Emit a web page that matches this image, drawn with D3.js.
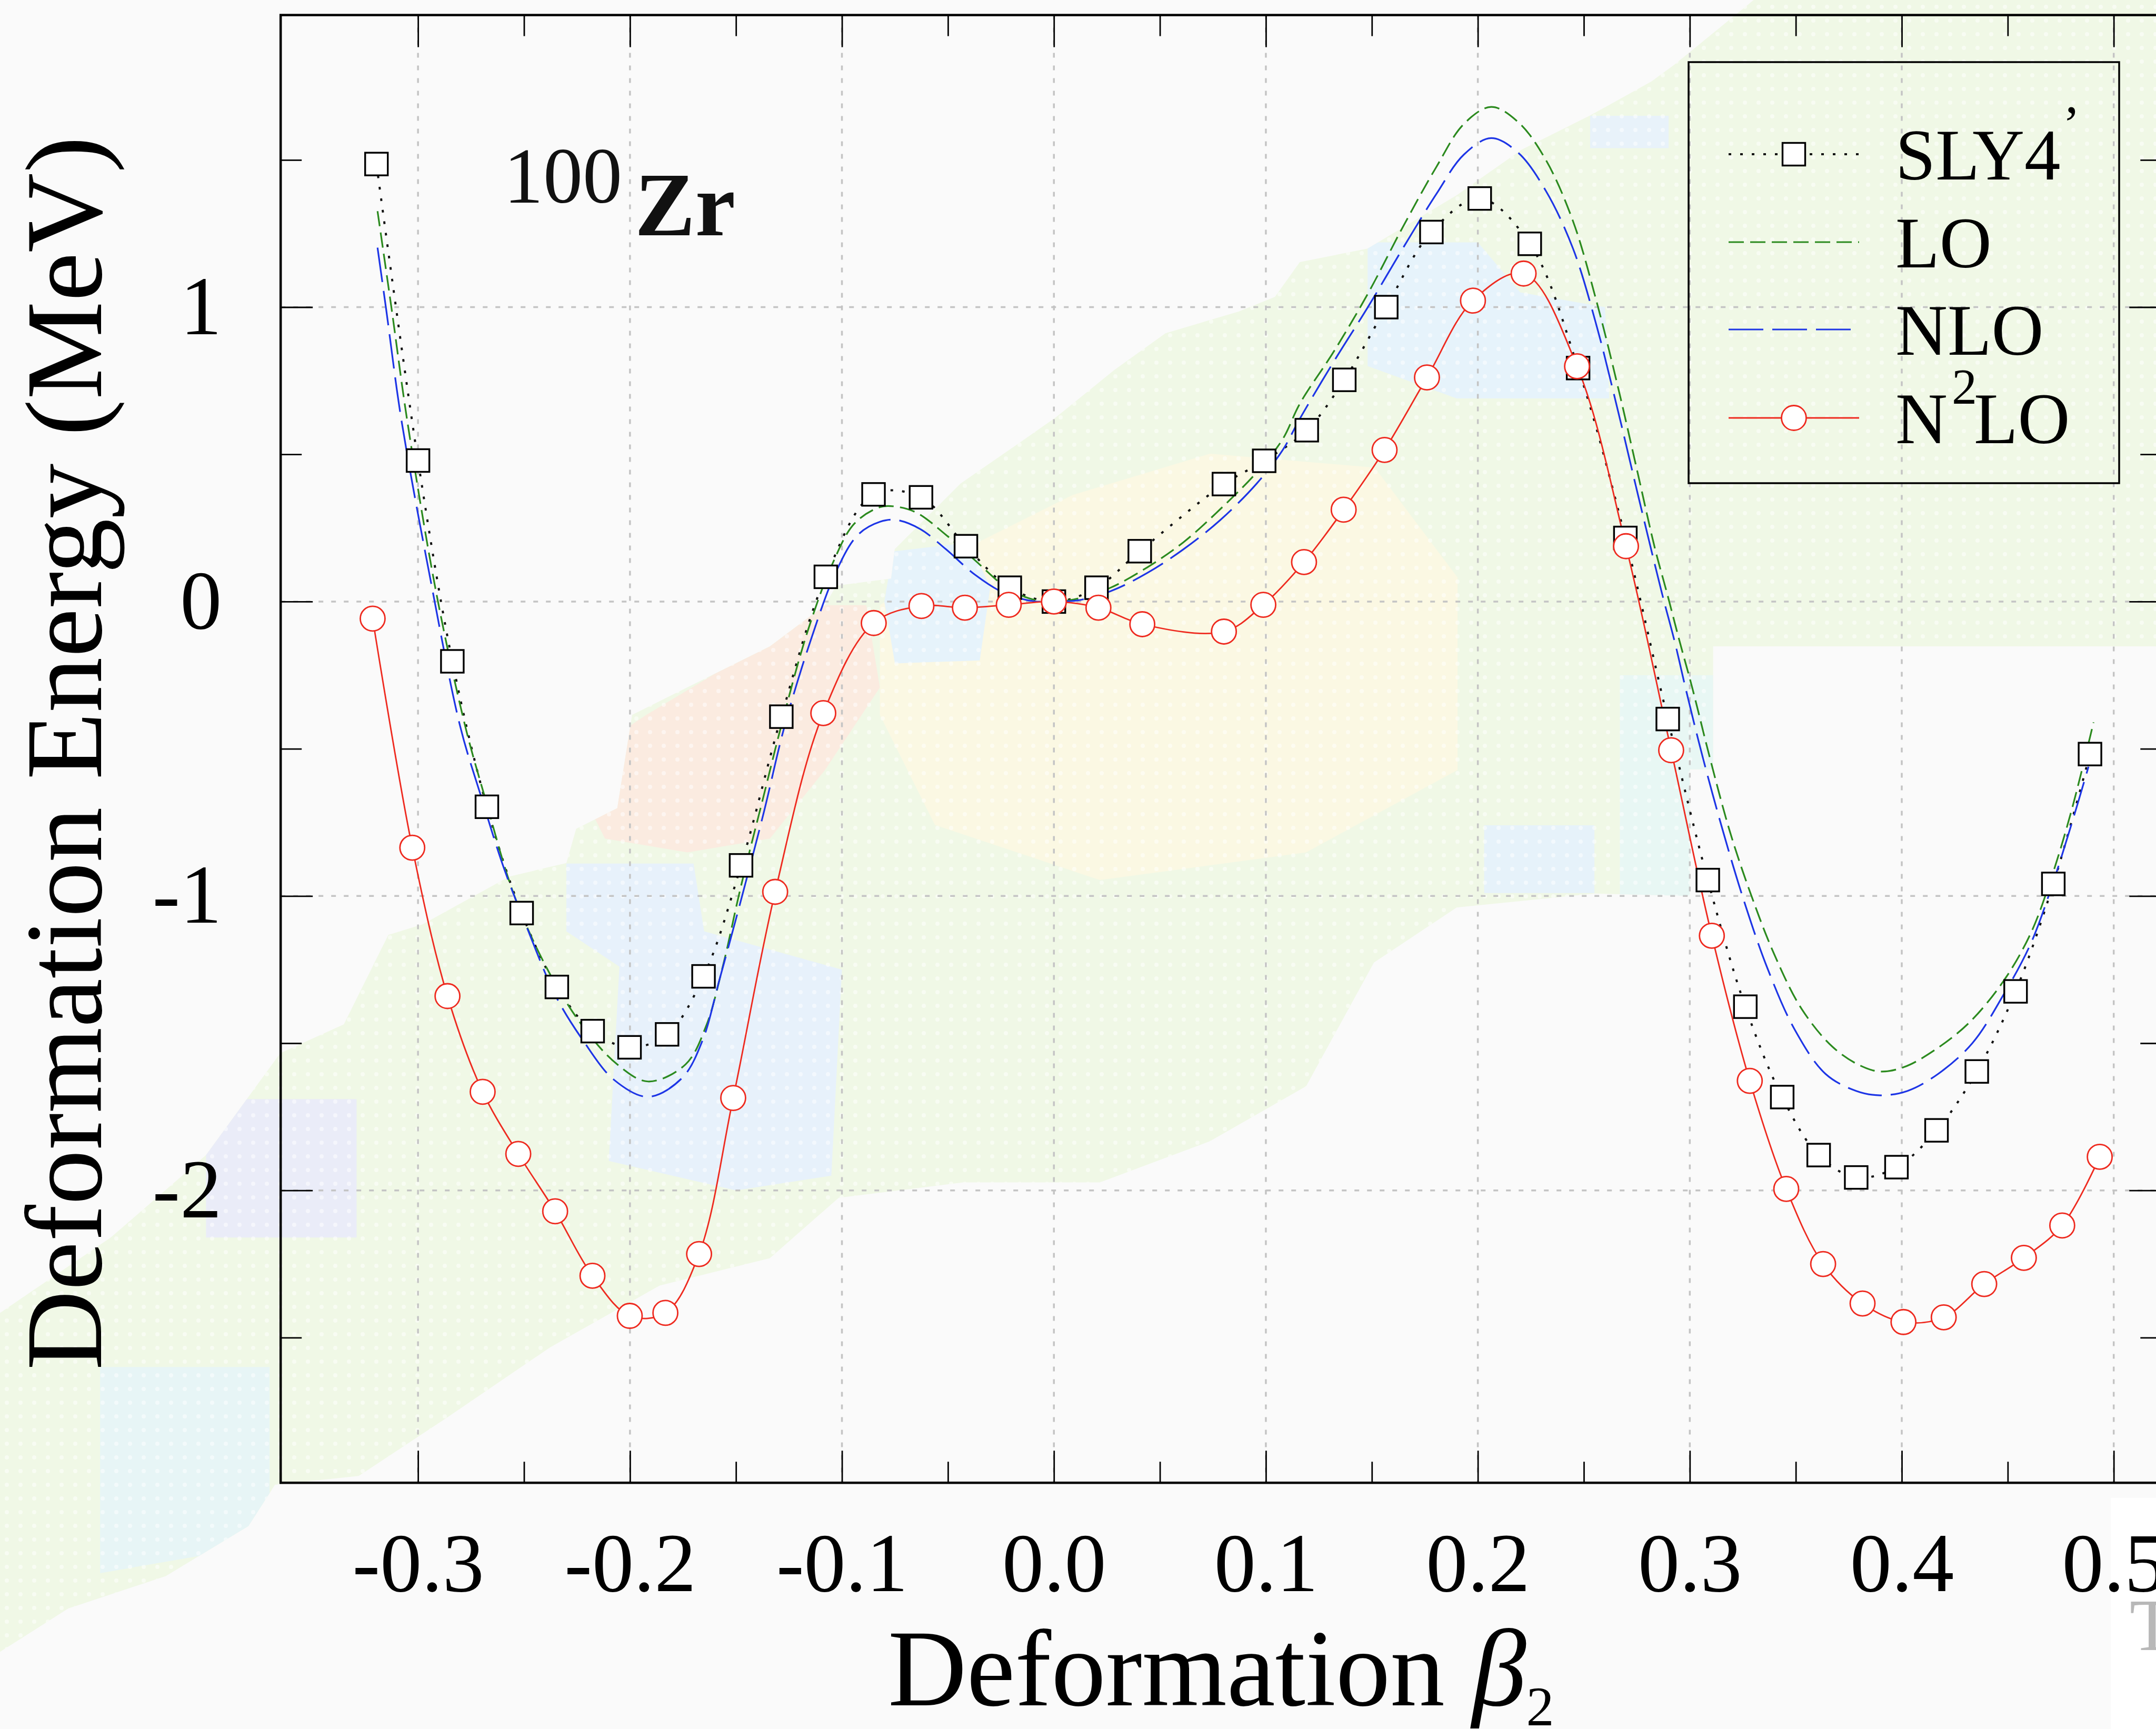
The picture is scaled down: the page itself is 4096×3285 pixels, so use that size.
<!DOCTYPE html>
<html>
<head>
<meta charset="utf-8">
<script src="https://cdn.jsdelivr.net/npm/d3@7"></script>
<style>
  html, body { margin: 0; padding: 0; background: #fafafa; overflow: hidden; }
  svg { display: block; }
</style>
</head>
<body>
<svg id="chart" width="4096" height="3285"></svg>
<script>
// ---- Deformation energy curves of 100Zr ------------------------------------

// SLY4' (Skyrme reference), open squares joined by a dotted curve
const betaSly4 = [-0.3196, -0.3000, -0.2838, -0.2675, -0.2511, -0.2345, -0.2176, -0.2002, -0.1825, -0.1653,
  -0.1476, -0.1286, -0.1076, -0.0851, -0.0627, -0.0415, -0.0208, 0.0000, 0.0201, 0.0405,
  0.0802, 0.0992, 0.1193, 0.1370, 0.1568, 0.1781, 0.2009, 0.2245, 0.2473, 0.2696,
  0.2896, 0.3085, 0.3262, 0.3436, 0.3608, 0.3785, 0.3975, 0.4164, 0.4354, 0.4537,
  0.4715, 0.4888];
const energySly4 = [1.486, 0.479, -0.203, -0.697, -1.058, -1.309, -1.459, -1.514, -1.470, -1.273,
  -0.896, -0.391, 0.084, 0.364, 0.354, 0.188, 0.047, 0.000, 0.047, 0.171,
  0.399, 0.478, 0.582, 0.753, 1.000, 1.255, 1.369, 1.215, 0.793, 0.216,
  -0.399, -0.946, -1.376, -1.683, -1.880, -1.956, -1.921, -1.796, -1.596, -1.324,
  -0.959, -0.518];

// N2LO, open circles joined by a solid curve
const betaN2lo = [-0.3214, -0.3027, -0.2861, -0.2695, -0.2527, -0.2353, -0.2177, -0.2001, -0.1833, -0.1674,
  -0.1513, -0.1315, -0.1088, -0.0850, -0.0625, -0.0420, -0.0213, 0.0000, 0.0210, 0.0417,
  0.0802, 0.0988, 0.1180, 0.1367, 0.1560, 0.1760, 0.1977, 0.2216, 0.2468, 0.2699,
  0.2912, 0.3104, 0.3283, 0.3455, 0.3629, 0.3815, 0.4008, 0.4198, 0.4389, 0.4576,
  0.4757, 0.4934];
const energyN2lo = [-0.058, -0.836, -1.340, -1.665, -1.876, -2.071, -2.290, -2.426, -2.416, -2.216,
  -1.686, -0.986, -0.379, -0.073, -0.015, -0.021, -0.011, 0.000, -0.021, -0.077,
  -0.102, -0.011, 0.134, 0.312, 0.515, 0.761, 1.022, 1.114, 0.799, 0.188,
  -0.505, -1.135, -1.628, -1.995, -2.250, -2.384, -2.447, -2.431, -2.318, -2.229,
  -2.119, -1.886];

// LO, continuous curve (green, short dashes)
const betaLo = [-0.3191, -0.3124, -0.3051, -0.2914, -0.2777, -0.2688, -0.2543, -0.2382, -0.2221, -0.2060,
  -0.1915, -0.1738, -0.1642, -0.1561, -0.1481, -0.1368, -0.1287, -0.1165, -0.1045, -0.0941,
  -0.0820, -0.0751, -0.0648, -0.0510, -0.0372, -0.0234, -0.0113, 0.0000, 0.0112, 0.0267,
  0.0440, 0.0612, 0.0785, 0.0957, 0.1078, 0.1161, 0.1322, 0.1483, 0.1644, 0.1805,
  0.1934, 0.2063, 0.2191, 0.2320, 0.2449, 0.2562, 0.2659, 0.2755, 0.2836, 0.2892,
  0.2950, 0.3012, 0.3093, 0.3189, 0.3286, 0.3399, 0.3528, 0.3673, 0.3801, 0.3898,
  0.4011, 0.4156, 0.4317, 0.4478, 0.4607, 0.4703, 0.4800, 0.4905];
const energyLo = [1.326, 0.991, 0.615, 0.030, -0.424, -0.656, -1.004, -1.259, -1.444, -1.572,
  -1.630, -1.572, -1.444, -1.236, -0.981, -0.656, -0.424, -0.108, 0.128, 0.265,
  0.321, 0.323, 0.302, 0.227, 0.140, 0.053, 0.010, 0.000, 0.010, 0.047,
  0.116, 0.202, 0.314, 0.439, 0.550, 0.673, 0.851, 1.048, 1.269, 1.477,
  1.622, 1.680, 1.628, 1.501, 1.292, 1.014, 0.735, 0.434, 0.179, 0.030,
  -0.130, -0.294, -0.526, -0.781, -0.990, -1.199, -1.384, -1.512, -1.575, -1.596,
  -1.581, -1.523, -1.431, -1.291, -1.129, -0.944, -0.712, -0.410];

// NLO, continuous curve (blue, long dashes)
const betaNlo = [-0.3191, -0.3150, -0.3078, -0.2940, -0.2801, -0.2705, -0.2592, -0.2479, -0.2350, -0.2221,
  -0.2076, -0.1915, -0.1754, -0.1658, -0.1577, -0.1481, -0.1368, -0.1271, -0.1148, -0.1027,
  -0.0924, -0.0820, -0.0743, -0.0630, -0.0510, -0.0372, -0.0234, -0.0095, 0.0000, 0.0112,
  0.0267, 0.0440, 0.0612, 0.0785, 0.0957, 0.1078, 0.1161, 0.1322, 0.1483, 0.1644,
  0.1805, 0.1934, 0.2063, 0.2191, 0.2320, 0.2449, 0.2562, 0.2659, 0.2755, 0.2868,
  0.2930, 0.2980, 0.3060, 0.3157, 0.3254, 0.3366, 0.3495, 0.3640, 0.3785, 0.3898,
  0.4027, 0.4172, 0.4333, 0.4478, 0.4607, 0.4703, 0.4800, 0.4881];
const energyNlo = [1.202, 0.991, 0.615, 0.070, -0.424, -0.656, -0.911, -1.120, -1.340, -1.491,
  -1.624, -1.682, -1.618, -1.491, -1.282, -1.027, -0.714, -0.424, -0.133, 0.103,
  0.227, 0.271, 0.277, 0.246, 0.178, 0.091, 0.029, 0.001, 0.000, 0.004,
  0.035, 0.097, 0.178, 0.277, 0.401, 0.513, 0.622, 0.817, 1.002, 1.197,
  1.385, 1.518, 1.574, 1.524, 1.396, 1.199, 0.932, 0.654, 0.364, 0.030,
  -0.140, -0.294, -0.526, -0.781, -1.013, -1.245, -1.454, -1.604, -1.662, -1.677,
  -1.662, -1.604, -1.500, -1.338, -1.164, -0.978, -0.758, -0.561];

// Axis ticks and labels
const xTickValues = [-0.3, -0.2, -0.1, 0.0, 0.1, 0.2, 0.3, 0.4, 0.5];
const xTickLabels = ["-0.3", "-0.2", "-0.1", "0.0", "0.1", "0.2", "0.3", "0.4", "0.5"];
const xMinorTicks = [-0.25, -0.15, -0.05, 0.05, 0.15, 0.25, 0.35, 0.45];
const yTickValues = [-2, -1, 0, 1];
const yTickLabels = ["-2", "-1", "0", "1"];
const yMinorTicks = [-2.5, -1.5, -0.5, 0.5, 1.5];

const seriesNames = ["SLY4", "LO", "NLO", "N2LO"];

// Pale backdrop (a faded surface map behind the curves), in (beta2, MeV) units
const backdropOutline = [
  [-0.50, -2.43], [-0.445, -2.16], [-0.40, -1.88], [-0.365, -1.534], [-0.335, -1.436], [-0.314, -1.132],
  [-0.298, -1.097], [-0.257, -0.934], [-0.230, -0.888], [-0.2254, -0.772], [-0.206, -0.702], [-0.199, -0.385],
  [-0.160, -0.245], [-0.134, -0.152], [-0.108, -0.012], [-0.1027, 0.054], [-0.0768, 0.078], [-0.0751, 0.178],
  [-0.044, 0.401], [-0.0165, 0.538], [0.0008, 0.625], [0.0284, 0.786], [0.0526, 0.911], [0.0871, 0.985],
  [0.1043, 1.035], [0.116, 1.153], [0.148, 1.199], [0.190, 1.380], [0.2207, 1.535], [0.253, 1.651],
  [0.282, 1.767], [0.293, 1.825], [0.333, 2.06], [0.56, 2.06], [0.56, -0.152], [0.311, -0.152],
  [0.311, -0.57], [0.300, -0.57], [0.300, -1.0], [0.255, -0.992], [0.190, -1.039], [0.151, -1.226],
  [0.119, -1.646], [0.0736, -1.833], [0.0217, -1.973], [-0.043, -1.973], [-0.1015, -2.025], [-0.134, -2.23],
  [-0.186, -2.323], [-0.2377, -2.533], [-0.286, -2.77], [-0.328, -2.97], [-0.3675, -3.0], [-0.380, -3.14],
  [-0.419, -3.31], [-0.465, -3.42], [-0.50, -3.58]
];
const backdropPatches = [
  { fill: "#fbebe0", pts: [[-0.2183, -0.712], [-0.2118, -0.479], [-0.1923, -0.385], [-0.1599, -0.245], [-0.134, -0.152],
      [-0.108, -0.012], [-0.0885, -0.012], [-0.0821, -0.292], [-0.108, -0.572], [-0.134, -0.805], [-0.1729, -0.852], [-0.2118, -0.805]] },
  { fill: "#fbf8e3", pts: [[-0.0821, -0.012], [-0.0431, 0.175], [0.0088, 0.362], [0.0736, 0.502], [0.1514, 0.455],
      [0.1904, 0.082], [0.1904, -0.572], [0.119, -0.852], [0.0217, -0.946], [-0.0561, -0.759], [-0.0821, -0.385]] },
  { fill: "#e6f3fb", pts: [[-0.076, 0.17], [-0.040, 0.20], [-0.030, 0.05], [-0.035, -0.20], [-0.075, -0.21], [-0.080, 0.0]] },
  { fill: "#e7f1fb", pts: [[-0.230, -0.89], [-0.170, -0.89], [-0.165, -1.12], [-0.100, -1.25], [-0.105, -1.95],
      [-0.150, -2.0], [-0.210, -1.90], [-0.205, -1.24], [-0.230, -1.12]] },
  { fill: "#e6f3fb", pts: [[0.148, 1.22], [0.200, 1.22], [0.220, 1.05], [0.260, 1.00], [0.262, 0.69], [0.190, 0.69], [0.148, 0.80]] },
  { fill: "#e8f2fa", pts: [[0.253, 1.65], [0.290, 1.65], [0.290, 1.54], [0.253, 1.54]] },
  { fill: "#e6f2fa", pts: [[0.203, -0.76], [0.255, -0.76], [0.255, -0.99], [0.203, -0.99]] },
  { fill: "#e8f7f4", pts: [[0.267, -0.25], [0.311, -0.25], [0.311, -0.57], [0.300, -0.57], [0.300, -1.0], [0.267, -1.0]] },
  { fill: "#eaecf8", pts: [[-0.400, -1.69], [-0.329, -1.69], [-0.329, -2.16], [-0.400, -2.16]] },
  { fill: "#e7f5f6", pts: [[-0.45, -2.6], [-0.37, -2.6], [-0.37, -3.2], [-0.45, -3.3]] }
];

// ---- Layout -----------------------------------------------------------------
const svg = d3.select("#chart");
const serif = "'Liberation Serif', 'Times New Roman', serif";

const x = d3.scaleLinear().domain([-0.3648, 0.5225]).range([533.2, 4106.3]);
const y = d3.scaleLinear().domain([-2.993, 1.992]).range([2817.2, 28.6]);
const [x0, x1] = x.range();
const [yb, yt] = y.range();

svg.append("rect").attr("width", 4096).attr("height", 3285).attr("fill", "#fafafa");

const defs = svg.append("defs");
defs.append("clipPath").attr("id", "plotClip")
  .append("rect").attr("x", x0).attr("y", yt).attr("width", x1 - x0).attr("height", yb - yt);
const dots = defs.append("pattern").attr("id", "dots").attr("patternUnits", "userSpaceOnUse")
  .attr("width", 26).attr("height", 26);
dots.append("circle").attr("cx", 13).attr("cy", 13).attr("r", 4).attr("fill", "#ffffff").attr("opacity", 0.5);

const area = d3.line().x(d => x(d[0])).y(d => y(d[1])).curve(d3.curveLinearClosed);
defs.append("clipPath").attr("id", "bandClip").append("path").attr("d", area(backdropOutline));

// backdrop
const back = svg.append("g").attr("class", "backdrop");
back.append("path").attr("d", area(backdropOutline)).attr("fill", "#f0f8e6");
back.append("g").attr("clip-path", "url(#bandClip)")
  .selectAll("path").data(backdropPatches).join("path")
  .attr("d", d => area(d.pts)).attr("fill", d => d.fill);
back.append("rect").attr("clip-path", "url(#bandClip)")
  .attr("x", 0).attr("y", 0).attr("width", 4096).attr("height", 3285).attr("fill", "url(#dots)");

// corner badge at the lower right
svg.append("rect").attr("x", 4010).attr("y", 2846).attr("width", 90).attr("height", 445).attr("fill", "#ffffff");
svg.append("text").attr("x", 4046).attr("y", 3135).attr("font-family", serif).attr("font-size", 140)
  .attr("fill", "#b8b8b8").text("T");

// grid
const grid = svg.append("g").attr("clip-path", "url(#plotClip)")
  .attr("stroke", "#c4c4c4").attr("stroke-width", 3.5).attr("stroke-dasharray", "9,15");
grid.selectAll("line.v").data(xTickValues).join("line").attr("class", "v")
  .attr("x1", d => x(d)).attr("x2", d => x(d)).attr("y1", yt).attr("y2", yb);
grid.selectAll("line.h").data(yTickValues).join("line").attr("class", "h")
  .attr("x1", x0).attr("x2", x1).attr("y1", d => y(d)).attr("y2", d => y(d));

// ---- Curves -----------------------------------------------------------------
const smooth = d3.line().x(d => x(d[0])).y(d => y(d[1])).curve(d3.curveCatmullRom.alpha(0.5));
const sly4 = d3.zip(betaSly4, energySly4);
const n2lo = d3.zip(betaN2lo, energyN2lo);
const lo = d3.zip(betaLo, energyLo);
const nlo = d3.zip(betaNlo, energyNlo);

const styles = {
  SLY4: { stroke: "#111111", width: 4, dash: "5,17" },
  LO:   { stroke: "#2b8a1e", width: 3.2, dash: "29,12" },
  NLO:  { stroke: "#1d35e6", width: 3.2, dash: "66,17" },
  N2LO: { stroke: "#ee2a1f", width: 2.8, dash: null }
};
const seriesData = { SLY4: sly4, LO: lo, NLO: nlo, N2LO: n2lo };

const plot = svg.append("g").attr("clip-path", "url(#plotClip)");
seriesNames.forEach(name => {
  const s = styles[name];
  plot.append("path").datum(seriesData[name]).attr("d", smooth)
    .attr("fill", "none").attr("stroke", s.stroke).attr("stroke-width", s.width)
    .attr("stroke-dasharray", s.dash);
});

const sq = 43, rad = 23.5;
plot.append("g").selectAll("rect").data(sly4).join("rect")
  .attr("x", d => x(d[0]) - sq / 2).attr("y", d => y(d[1]) - sq / 2)
  .attr("width", sq).attr("height", sq)
  .attr("fill", "#ffffff").attr("stroke", "#000").attr("stroke-width", 3.4);
plot.append("g").selectAll("circle").data(n2lo).join("circle")
  .attr("cx", d => x(d[0])).attr("cy", d => y(d[1])).attr("r", rad)
  .attr("fill", "#ffffff").attr("stroke", styles.N2LO.stroke).attr("stroke-width", 2.8);

// ---- Axes -------------------------------------------------------------------
function styleAxis(g) {
  g.select(".domain").remove();
  g.attr("font-family", serif).attr("font-size", 158);
  g.selectAll("line").attr("stroke", "#000").attr("stroke-width", 2.8);
  g.selectAll("text").attr("fill", "#000");
}
svg.append("g").attr("transform", `translate(0,${yb})`)
  .call(d3.axisBottom(x).tickValues(xTickValues).tickSize(-61).tickPadding(94)
    .tickFormat((d, i) => xTickLabels[i])).call(styleAxis);
svg.append("g").attr("transform", `translate(0,${yb})`)
  .call(d3.axisBottom(x).tickValues(xMinorTicks).tickSize(-40).tickFormat("")).call(styleAxis);
svg.append("g").attr("transform", `translate(0,${yt})`)
  .call(d3.axisTop(x).tickValues(xTickValues).tickSize(-61).tickFormat("")).call(styleAxis);
svg.append("g").attr("transform", `translate(0,${yt})`)
  .call(d3.axisTop(x).tickValues(xMinorTicks).tickSize(-40).tickFormat("")).call(styleAxis);
svg.append("g").attr("transform", `translate(${x0},0)`)
  .call(d3.axisLeft(y).tickValues(yTickValues).tickSize(-61).tickPadding(112)
    .tickFormat((d, i) => yTickLabels[i])).call(styleAxis);
svg.append("g").attr("transform", `translate(${x0},0)`)
  .call(d3.axisLeft(y).tickValues(yMinorTicks).tickSize(-40).tickFormat("")).call(styleAxis);
svg.append("g").attr("transform", `translate(${x1},0)`)
  .call(d3.axisRight(y).tickValues(yTickValues).tickSize(-61).tickFormat("")).call(styleAxis);
svg.append("g").attr("transform", `translate(${x1},0)`)
  .call(d3.axisRight(y).tickValues(yMinorTicks).tickSize(-40).tickFormat("")).call(styleAxis);

svg.append("rect").attr("x", x0).attr("y", yt).attr("width", x1 - x0).attr("height", yb - yt)
  .attr("fill", "none").attr("stroke", "#000").attr("stroke-width", 4.5);

// axis titles
const xTitle = svg.append("text").attr("x", (x0 + x1) / 2).attr("y", 3240)
  .attr("text-anchor", "middle").attr("font-family", serif).attr("font-size", 207).attr("fill", "#000");
xTitle.append("tspan").text("Deformation ");
xTitle.append("tspan").attr("font-style", "italic").text("β");
xTitle.append("tspan").attr("font-size", 106).attr("dy", 38).text("2");

svg.append("text").attr("transform", `translate(192,${(yt + yb) / 2 + 8}) rotate(-90)`)
  .attr("text-anchor", "middle").attr("font-family", serif).attr("font-size", 207).attr("fill", "#000")
  .attr("textLength", 2344).attr("lengthAdjust", "spacingAndGlyphs")
  .text("Deformation Energy (MeV)");

// nucleus label
const nuc = svg.append("text").attr("x", 957).attr("y", 385).attr("font-family", serif).attr("fill", "#111");
nuc.append("tspan").attr("font-size", 150).text("100");
nuc.append("tspan").attr("font-size", 172).attr("font-weight", "bold").attr("dx", 24).attr("dy", 62).text("Zr");

// ---- Legend -----------------------------------------------------------------
const legend = svg.append("g");
legend.append("rect").attr("x", 3208).attr("y", 118).attr("width", 818).attr("height", 800)
  .attr("fill", "none").attr("stroke", "#000").attr("stroke-width", 3.5);
const rowY = [293, 460, 626, 794];
seriesNames.forEach((name, i) => {
  const s = styles[name];
  const cy = rowY[i];
  legend.append("line").attr("x1", 3284).attr("x2", 3532).attr("y1", cy).attr("y2", cy)
    .attr("stroke", s.stroke).attr("stroke-width", s.width).attr("stroke-dasharray", s.dash);
  if (name === "SLY4") {
    legend.append("rect").attr("x", 3408 - sq / 2).attr("y", cy - sq / 2).attr("width", sq).attr("height", sq)
      .attr("fill", "#fff").attr("stroke", "#000").attr("stroke-width", 3.4);
  }
  if (name === "N2LO") {
    legend.append("circle").attr("cx", 3408).attr("cy", cy).attr("r", rad)
      .attr("fill", "#fff").attr("stroke", s.stroke).attr("stroke-width", 2.8);
  }
  const t = legend.append("text").attr("x", 3601).attr("y", cy + 47.5)
    .attr("font-family", serif).attr("font-size", 137).attr("fill", "#000");
  if (name === "SLY4") {
    t.append("tspan").text("SLY4");
    t.append("tspan").attr("font-size", 100).attr("dx", 4).attr("dy", -72).text("’");
  } else if (name === "N2LO") {
    t.append("tspan").text("N");
    t.append("tspan").attr("font-size", 96).attr("dx", 8).attr("dy", -75).text("2");
    t.append("tspan").attr("dx", -6).attr("dy", 75).text("LO");
  } else {
    t.text(name);
  }
});
</script>
</body>
</html>
